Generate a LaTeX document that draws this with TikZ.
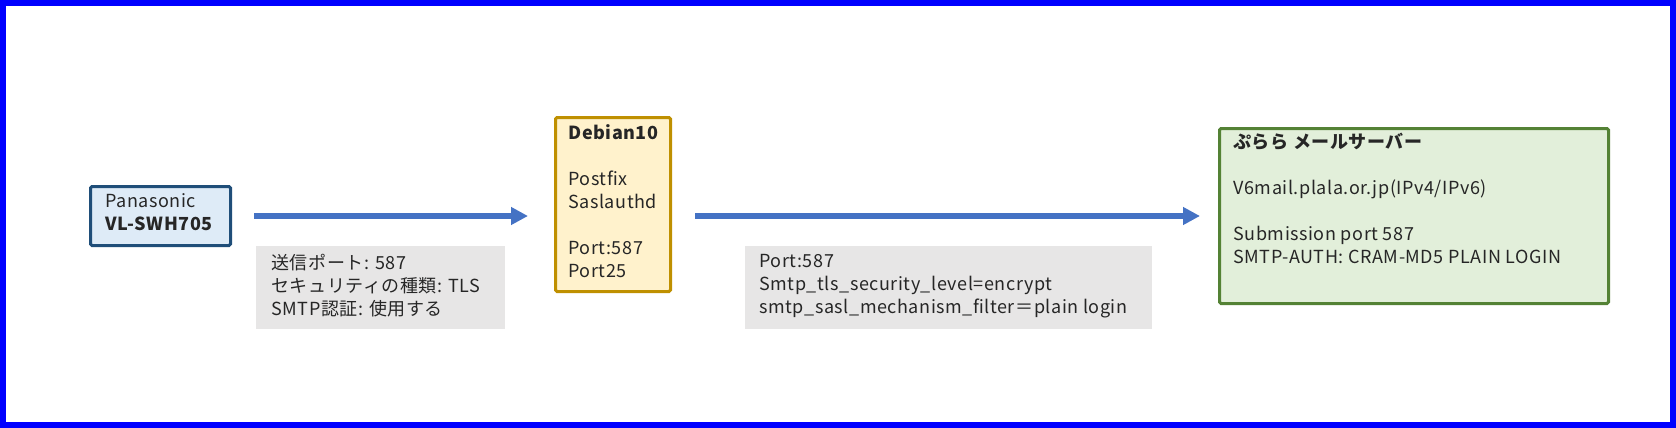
\documentclass[tikz,border=0pt]{standalone}
\usepackage{fontspec}
\setmainfont{Noto Sans CJK JP}[LetterSpace=3]
\usetikzlibrary{arrows.meta,fit}

\definecolor{frameblue}{HTML}{0000FF}
\definecolor{flowblue}{HTML}{4472C4}
\definecolor{panafill}{HTML}{DEEBF7}
\definecolor{panadraw}{HTML}{1F4E79}
\definecolor{debfill}{HTML}{FFF2CC}
\definecolor{debdraw}{HTML}{BF9000}
\definecolor{plalafill}{HTML}{E2EFDA}
\definecolor{plaladraw}{HTML}{548235}
\definecolor{notefill}{HTML}{E7E6E6}

\tikzset{
  hostbox/.style={rectangle, inner sep=0pt, line width=1.5pt, rounded corners=0.8pt},
  notebox/.style={rectangle, inner sep=0pt, fill=notefill},
  boxtext/.style={anchor=north west, inner sep=0pt, align=left, text=black!85,
    font=\fontsize{9}{11.5}\selectfont, execute at begin node=\strut},
  flow/.style={draw=flowblue, line width=3pt, -{Triangle[length=8.5pt,width=8.5pt]}}
}

\begin{document}
\begin{tikzpicture}[x=0.5pt,y=-0.5pt]
    % Frame of the picture
    \useasboundingbox (0,0) rectangle (1676,428);
    \draw[frameblue, line width=3pt] (3,3) rectangle (1673,425);

    % Boxes for the three machines
    \node (pana) [hostbox, draw=panadraw, fill=panafill, fit={(90.5,186.5) (230.5,245.5)}] {};
    \node (deb) [hostbox, draw=debdraw, fill=debfill, fit={(555.5,117.5) (670.5,291.5)}] {};
    \node (plala) [hostbox, draw=plaladraw, fill=plalafill, fit={(1219.5,128.5) (1608.5,303.5)}] {};

    % Gray notes under the arrows
    \node (note1) [notebox, fit={(256,246) (505,329)}] {};
    \node (note2) [notebox, fit={(745,246) (1152,329)}] {};

    % Texts in the boxes
    \node (pana text) [boxtext] at (105,193) {Panasonic\\\textbf{VL-SWH705}};
    \node (deb text) [boxtext] at (568,124) {\textbf{Debian10}\\ \\Postfix\\Saslauthd\\ \\Port:587\\Port25};
    \node (plala text) [boxtext] at (1233,133) {\textbf{ぷらら メールサーバー}\\ \\V6mail.plala.or.jp(IPv4/IPv6)\\ \\Submission port 587\\SMTP-AUTH: CRAM-MD5 PLAIN LOGIN};
    \node (note1 text) [boxtext] at (271,254) {送信ポート: 587\\セキュリティの種類: TLS\\SMTP認証: 使用する};
    \node (note2 text) [boxtext] at (759,254) {Port:587\\Smtp\_tls\_security\_level=encrypt\\smtp\_sasl\_mechanism\_filter＝plain login};

    % Arrows between the machines
    \draw[flow, shorten <=11pt, shorten >=13pt] (pana.east) -- (pana.east -| deb.west);
    \draw[flow, shorten <=11.5pt, shorten >=9pt] (deb.east |- plala.west) -- (plala.west);
\end{tikzpicture}
\end{document}
